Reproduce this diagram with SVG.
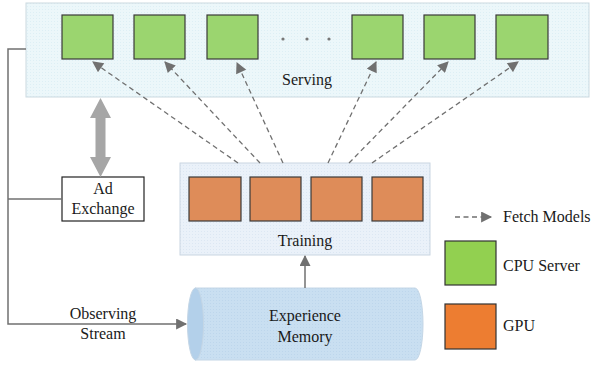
<svg xmlns="http://www.w3.org/2000/svg" width="596" height="369" viewBox="0 0 596 369" font-family="'Liberation Serif', 'Times New Roman', 'DejaVu Serif', serif">
<style>
text{font-family:'Liberation Serif','Times New Roman','DejaVu Serif',serif;font-size:16px;fill:#1a1a1a;text-anchor:middle}
.lbl{text-anchor:start}
.cpu{fill:#9BD56F;stroke:#3a3a3a;stroke-width:1.2}
.gpu{fill:#DE8C59;stroke:#3a3a3a;stroke-width:1.2}
.dash{stroke:#707070;stroke-width:1.3;stroke-dasharray:5,3.5;fill:none}
.solid{stroke:#707070;stroke-width:1.5;fill:none}
</style>
<defs>
<pattern id="grid" width="3" height="3" patternUnits="userSpaceOnUse">
<rect width="3" height="3" fill="#ECF7FA"/>
<rect width="1" height="1" fill="#DDEFF5"/>
</pattern>
<pattern id="grid2" width="3" height="3" patternUnits="userSpaceOnUse">
<rect width="3" height="3" fill="#EAF1F9"/>
<rect width="1" height="1" fill="#DCE7F3"/>
</pattern>
<pattern id="grid3" width="3" height="3" patternUnits="userSpaceOnUse">
<rect width="3" height="3" fill="#C9DFF1"/>
<rect width="1" height="1" fill="#BDD6EC"/>
</pattern>
<marker id="ah2" viewBox="0 0 10 10" refX="9" refY="5" markerWidth="12" markerHeight="11" markerUnits="userSpaceOnUse" orient="auto">
<path d="M0,0 L10,5 L0,10 Z" fill="#707070"/>
</marker>
</defs>

<g id="serving">
<rect x="26" y="3" width="563" height="94" fill="url(#grid)" stroke="#CBD9E0" stroke-width="1"/>
<rect class="cpu" x="62" y="15" width="51" height="44"/>
<rect class="cpu" x="134" y="15" width="51" height="44"/>
<rect class="cpu" x="207" y="15" width="51" height="44"/>
<rect class="cpu" x="352" y="15" width="51" height="44"/>
<rect class="cpu" x="424" y="15" width="51" height="44"/>
<rect class="cpu" x="496" y="15" width="52" height="44"/>
<circle cx="283" cy="39" r="1.6" fill="#777"/>
<circle cx="307" cy="39" r="1.6" fill="#777"/>
<circle cx="329" cy="39" r="1.6" fill="#777"/>
<text x="307" y="85">Serving</text>
</g>

<g id="training">
<rect x="180" y="163" width="250" height="92" fill="url(#grid2)" stroke="#C9D5E1" stroke-width="1"/>
<rect class="gpu" x="189" y="177" width="52" height="44"/>
<rect class="gpu" x="250" y="177" width="51" height="44"/>
<rect class="gpu" x="311" y="177" width="51" height="44"/>
<rect class="gpu" x="372" y="177" width="51" height="44"/>
<text x="305" y="246">Training</text>
</g>

<g id="ad-exchange">
<rect x="62" y="177" width="82" height="44" fill="#fff" stroke="#222" stroke-width="1.2"/>
<text x="103" y="194">Ad</text>
<text x="103" y="214">Exchange</text>
</g>

<g id="experience-memory">
<path d="M195,288 L415,288 A8,36 0 0 1 415,360 L195,360 Z" fill="url(#grid3)" stroke="#C4D6E6" stroke-width="1"/>
<ellipse cx="195.5" cy="324" rx="8" ry="36" fill="#B3D0EA" stroke="#C4D6E6" stroke-width="1"/>
<text x="305" y="321">Experience</text>
<text x="305" y="342">Memory</text>
</g>

<g id="legend">
<line class="dash" x1="455" y1="217" x2="491" y2="217" marker-end="url(#ah2)"/>
<text class="lbl" x="503" y="222">Fetch Models</text>
<rect x="445" y="241" width="51" height="44" fill="#92D050" stroke="#333" stroke-width="1.2"/>
<text class="lbl" x="503" y="271">CPU Server</text>
<rect x="445" y="304" width="51" height="45" fill="#ED7D31" stroke="#333" stroke-width="1.2"/>
<text class="lbl" x="503" y="331">GPU</text>
</g>

<g id="connectors">
<line class="dash" x1="238" y1="163" x2="93" y2="62" marker-end="url(#ah2)"/>
<line class="dash" x1="260" y1="163" x2="165" y2="62" marker-end="url(#ah2)"/>
<line class="dash" x1="283" y1="163" x2="237" y2="63" marker-end="url(#ah2)"/>
<line class="dash" x1="328" y1="163" x2="376" y2="62" marker-end="url(#ah2)"/>
<line class="dash" x1="349" y1="163" x2="448" y2="62" marker-end="url(#ah2)"/>
<line class="dash" x1="372" y1="163" x2="518" y2="62" marker-end="url(#ah2)"/>
<path d="M100.5,98 L111,118 L105.5,118 L105.5,157 L111,157 L100.5,177 L90,157 L95.5,157 L95.5,118 L90,118 Z" fill="#A6A6A6"/>
<polyline class="solid" points="26,49 8,49 8,324 186,324" marker-end="url(#ah2)"/>
<line class="solid" x1="8" y1="199" x2="62" y2="199"/>
<line class="solid" x1="305" y1="288" x2="305" y2="256" marker-end="url(#ah2)"/>
<text x="103" y="319">Observing</text>
<text x="103" y="339">Stream</text>
</g>
</svg>
